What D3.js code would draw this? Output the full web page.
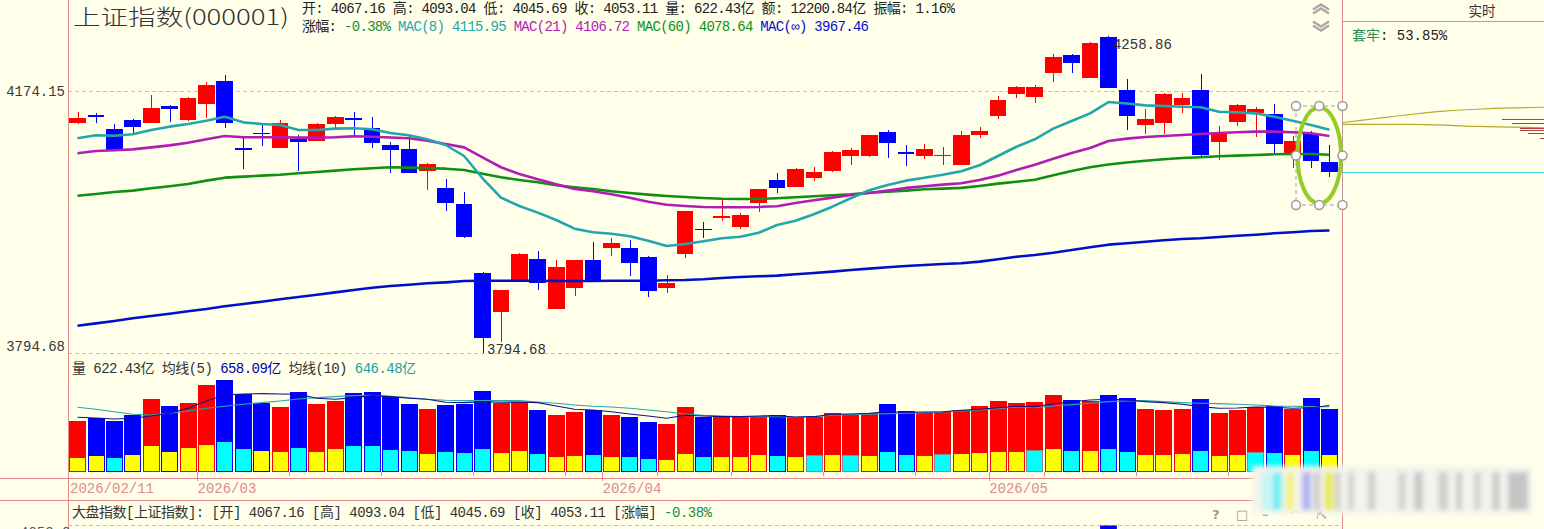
<!DOCTYPE html>
<html><head><meta charset="utf-8">
<script src="https://cdn.jsdelivr.net/npm/d3@7"></script>
<style>
html,body{margin:0;padding:0;background:#FFFFEA;overflow:hidden;}
svg{display:block;}
</style></head><body>
<svg id="c" width="1544" height="529"></svg>
<script>
// ---------- DATA ----------
const openP  = [4126.6,4138.2,4116.7,4130.7,4125.7,4151.9,4131.2,4154.5,4190.0,4088.3,4111.6,4088.3,4101.7,4099.6,4125.1,4133.3,4118.2,4093.2,4087.2,4055.1,4030.0,4006.1,3906.8,3851.6,3896.4,3926.4,3855.0,3885.4,3925.0,3941.8,3941.8,3928.8,3885.4,3933.1,3969.7,3987.1,3973.0,4007.9,4041.3,4031.5,4044.7,4055.1,4077.3,4077.3,4112.7,4082.2,4077.3,4077.9,4063.5,4108.2,4136.7,4170.1,4166.1,4202.7,4229.9,4194.1,4257.9,4176.2,4122.7,4125.7,4153.4,4176.2,4098.1,4128.1,4140.8,4139.8,4080.8,4109.2,4067.16];
const highP  = [4143.2,4140.8,4124.7,4132.2,4168.6,4153.4,4166.1,4188.9,4199.2,4103.2,4123.2,4130.7,4108.2,4125.7,4136.7,4142.3,4135.6,4098.1,4108.2,4066.0,4042.8,4023.2,3908.3,3882.2,3935.0,3937.9,3925.0,3925.0,3951.3,3956.2,3953.7,3930.7,3903.5,3995.8,3980.2,4011.9,3993.4,4028.1,4052.1,4059.5,4061.0,4084.2,4088.3,4107.7,4115.7,4093.2,4094.3,4090.7,4114.2,4119.8,4167.1,4182.3,4183.9,4231.5,4231.5,4250.4,4258.86,4193.0,4146.9,4171.2,4171.2,4200.7,4121.7,4154.9,4150.8,4154.9,4106.7,4114.2,4093.04];
const lowP   = [4124.7,4125.7,4084.7,4110.7,4125.7,4128.1,4129.6,4133.3,4118.2,4057.1,4091.7,4088.3,4055.1,4099.6,4118.2,4108.2,4089.2,4051.2,4052.1,4026.6,3996.3,3957.0,3794.68,3809.6,3896.4,3882.2,3855.0,3874.1,3893.1,3931.2,3902.1,3872.8,3877.5,3928.3,3957.0,3981.7,3969.2,3994.8,4022.6,4031.5,4040.3,4053.6,4063.5,4075.8,4073.4,4062.0,4072.8,4063.5,4063.5,4103.2,4131.8,4164.5,4156.0,4188.0,4201.8,4194.1,4180.0,4115.7,4109.7,4109.7,4141.7,4075.8,4070.9,4121.7,4105.6,4081.7,4058.6,4058.6,4045.69];
const closeP = [4133.3,4136.2,4085.7,4119.7,4148.4,4147.8,4163.6,4183.9,4125.7,4085.2,4110.7,4125.7,4098.1,4124.7,4135.6,4131.2,4096.7,4085.7,4052.1,4065.0,4007.9,3958.5,3815.2,3882.2,3933.6,3891.7,3915.0,3925.0,3893.1,3949.4,3921.1,3881.2,3891.7,3995.8,3968.6,3988.1,3990.0,4028.1,4029.1,4057.6,4053.1,4082.7,4085.7,4107.7,4095.7,4081.2,4087.2,4078.8,4107.7,4114.2,4161.0,4180.3,4180.3,4226.4,4217.1,4247.8,4180.0,4137.2,4131.8,4170.1,4163.6,4078.8,4109.7,4153.4,4146.9,4094.7,4099.2,4069.9,4053.11];

const mac8   = [4103.2,4107.7,4107.1,4109.2,4115.7,4120.7,4124.7,4129.6,4135.7,4127.2,4124.7,4123.2,4115.7,4115.7,4117.7,4118.3,4116.8,4111.2,4107.7,4101.7,4093.2,4076.8,4043.8,4015.3,4003.1,3993.4,3982.7,3970.1,3964.9,3962.8,3959.1,3952.7,3945.1,3947.9,3951.8,3956.2,3958.5,3964.3,3975.4,3981.7,3991.0,4002.1,4014.4,4026.2,4034.0,4040.3,4044.7,4049.1,4054.2,4063.1,4076.8,4090.6,4101.7,4117.7,4129.2,4140.8,4157.9,4155.7,4152.9,4151.9,4150.8,4149.9,4143.2,4142.3,4140.8,4135.7,4129.6,4123.2,4115.95];
const mac21  = [4080.8,4084.2,4085.3,4086.7,4089.7,4092.7,4096.6,4101.7,4106.7,4104.7,4104.7,4104.7,4104.2,4104.2,4104.7,4106.2,4105.6,4104.5,4103.2,4099.6,4094.7,4089.7,4074.9,4060.1,4050.2,4042.3,4035.0,4028.1,4024.7,4020.3,4015.3,4009.4,4005.0,4003.1,4001.7,4001.2,4001.2,4001.7,4002.8,4007.5,4011.5,4015.3,4019.3,4022.2,4025.6,4029.6,4032.0,4034.4,4036.4,4041.3,4047.7,4056.1,4063.9,4072.8,4081.2,4088.7,4099.2,4102.7,4105.2,4106.7,4108.2,4109.7,4111.2,4112.2,4113.2,4113.2,4112.2,4110.7,4106.72];
const mac60  = [4018.2,4020.7,4023.7,4025.6,4029.1,4032.0,4035.4,4040.3,4044.7,4046.2,4047.7,4049.1,4051.2,4053.1,4055.1,4057.1,4058.6,4060.1,4059.5,4058.6,4058.0,4056.1,4050.6,4045.3,4041.3,4037.9,4033.5,4030.6,4028.1,4024.7,4022.2,4019.7,4017.8,4016.3,4014.8,4013.8,4013.4,4013.4,4014.5,4015.9,4017.3,4018.8,4020.3,4022.6,4024.1,4025.6,4027.6,4028.5,4029.6,4032.5,4035.9,4038.8,4041.7,4048.2,4054.6,4060.1,4064.2,4067.2,4069.7,4071.9,4073.9,4074.9,4076.4,4077.3,4078.3,4079.4,4079.8,4079.8,4078.64];
const macInf = [3831.8,3835.2,3838.6,3842.4,3845.6,3848.8,3852.2,3855.4,3859.2,3862.5,3865.7,3869.1,3872.3,3875.6,3878.9,3882.2,3885.5,3887.9,3889.7,3891.7,3893.1,3895.0,3895.4,3895.4,3895.4,3895.4,3895.0,3895.0,3895.0,3895.4,3895.4,3895.4,3896.0,3896.4,3897.4,3899.3,3900.7,3901.7,3902.6,3904.6,3906.4,3908.3,3910.7,3912.6,3914.6,3916.4,3917.9,3919.3,3920.3,3922.6,3926.0,3929.7,3932.2,3935.4,3939.3,3943.2,3947.0,3949.1,3951.1,3953.3,3955.1,3956.2,3958.0,3959.9,3961.4,3963.4,3964.9,3966.7,3967.46];

// volume in 亿
const volume = [504.5,537.3,504.5,564.2,723.4,653.7,686.6,862.7,912.4,773.1,686.6,643.8,793.0,673.6,706.5,783.1,793.0,740.3,673.6,623.9,663.7,673.6,803.0,680.6,688.5,613.9,564.2,594.0,613.9,564.2,544.3,494.5,474.6,643.8,544.3,544.3,544.3,554.2,564.2,544.3,544.3,584.1,574.1,584.1,673.6,604.0,584.1,594.0,613.9,653.7,703.5,683.6,690.5,763.2,713.4,706.5,763.2,730.3,623.9,613.9,623.9,723.4,587.1,613.9,646.8,653.7,623.9,733.3,622.43];
const volPart = [143.3,166.2,143.3,176.1,265.7,206.0,245.8,275.6,305.5,235.8,215.9,206.0,245.8,206.0,235.8,265.7,265.7,225.9,215.9,186.1,206.0,196.0,235.8,196.0,215.9,186.1,156.2,166.2,176.1,156.2,156.2,136.3,126.4,186.1,156.2,156.2,156.2,176.1,166.2,156.2,166.2,176.1,166.2,166.2,206.0,176.1,166.2,176.1,186.1,196.0,206.0,206.0,215.9,235.8,215.9,215.9,235.8,206.0,176.1,176.1,186.1,215.9,166.2,176.1,196.0,196.0,176.1,215.9,176.1];
// 1 = yellow (up), 0 = cyan (down) for the lower part
const partUp = [1,1,0,1,1,1,1,1,0,0,1,1,0,1,1,0,0,0,0,1,0,0,0,1,1,0,1,1,0,1,0,0,1,1,0,1,1,1,0,1,0,1,0,1,0,0,1,0,1,1,1,1,0,1,0,1,0,0,1,1,1,0,1,1,0,0,1,0,1];
const volMa5  = [541.3,534.3,524.4,531.3,554.2,581.1,630.8,703.5,763.2,773.1,776.1,773.1,770.1,730.3,720.4,736.3,756.2,746.3,730.3,720.4,690.5,686.6,696.5,690.5,693.5,686.6,653.7,620.9,613.9,597.0,574.1,554.2,531.3,561.2,554.2,547.3,547.3,554.2,557.2,544.3,547.3,571.1,574.1,581.1,597.0,591.0,594.0,597.0,610.9,620.9,636.8,650.7,646.8,673.6,696.5,713.4,720.4,713.4,696.5,686.6,670.6,646.8,630.8,633.8,643.8,640.8,630.8,636.8,658.09];
const volMa10 = [640.8,620.9,597.0,571.1,564.2,581.1,604.0,630.8,650.7,670.6,686.6,703.5,723.4,736.3,746.3,756.2,760.2,750.2,736.3,720.4,710.4,706.5,706.5,706.5,706.5,693.5,680.6,663.7,650.7,643.8,630.8,613.9,597.0,574.1,561.2,554.2,547.3,547.3,547.3,541.3,547.3,561.2,567.2,571.1,577.1,581.1,587.1,594.0,604.0,613.9,626.9,643.8,636.8,653.7,666.7,680.6,696.5,703.5,706.5,696.5,686.6,680.6,676.6,670.6,663.7,653.7,650.7,646.8,646.48];

const dateLabels = ["2026/02/11","2026/03","2026/04","2026/05"];
const dateLabelIdx = [0,7,29,50];
const weekStartIdx = [7,12,17,22,27,29,32,36,41,46,50,53,58,63];
const priceTicks = [4174.15, 3794.68];
const hiIdx = 56, loIdx = 22;

// chip panel (right side)
const chipCostUpper = [4127, 4133, 4139, 4144, 4147, 4149, 4150];
const chipCostLower = [4124, 4124, 4124, 4123, 4121, 4120, 4119];
const chipBars = [[4132,42],[4126,32],[4118,24],[4116,24],[4111,16],[4104,4]];

// ---------- SCALES ----------
const W = 1544, H = 529;
const svg = d3.select("#c");
const n = closeP.length;
const idx = d3.range(n);
const x = d3.scaleBand().domain(idx).range([68.3, 1338.6]).paddingInner(0.09).paddingOuter(0.045);
const bw = x.bandwidth();
const cx = i => x(i) + bw / 2;
const y = d3.scaleLog().domain([3794.68, 4258.86]).range([352.5, 36.3]);
const yv = d3.scaleLinear().domain([0, 922]).range([471.7, 379]);

const RED = "#FF0000", BLUE = "#0000FF", PINK = "#E38A8A", GRID = "#DDB4A8";
const MONO = "'Liberation Mono','DejaVu Sans Mono','Noto Sans CJK SC',monospace";
const CJK = "'Noto Sans CJK SC','DejaVu Sans',sans-serif";

svg.append("rect").attr("width", W).attr("height", H).attr("fill", "#FFFFEA");

// ---------- GRID ----------
svg.selectAll(".grid").data(priceTicks).join("line")
  .attr("x1", 68).attr("x2", 1342)
  .attr("y1", d => Math.round(y(d)) + 0.5).attr("y2", d => Math.round(y(d)) + 0.5)
  .attr("stroke", GRID).attr("stroke-dasharray", "4,3").attr("stroke-width", 1);
svg.selectAll(".plab").data(priceTicks).join("text")
  .attr("x", 65).attr("y", (d, i) => i === 0 ? y(d) + 5 : y(d) - 1.5)
  .attr("text-anchor", "end").attr("font-family", MONO).attr("font-size", 14)
  .attr("fill", "#3a3a3a").text(d => d.toFixed(2));

// ---------- CANDLES ----------
const cg = svg.append("g").attr("shape-rendering", "crispEdges");
idx.forEach(i => {
  const up = closeP[i] >= openP[i];
  const col = up ? RED : BLUE;
  const xm = Math.round(cx(i)) + 0.5;
  cg.append("line").attr("x1", xm).attr("x2", xm)
    .attr("y1", y(highP[i])).attr("y2", y(lowP[i])).attr("stroke", col).attr("stroke-width", 1);
  const top = y(Math.max(openP[i], closeP[i]));
  const bot = y(Math.min(openP[i], closeP[i]));
  cg.append("rect").attr("x", x(i)).attr("width", bw)
    .attr("y", top).attr("height", Math.max(1.5, bot - top)).attr("fill", col);
});

// ---------- MA LINES ----------
const maDefs = [[macInf, "#0010C8"], [mac60, "#109010"], [mac21, "#B01CB4"], [mac8, "#22A6AE"]];
maDefs.forEach(([arr, col]) => {
  svg.append("path").datum(arr)
    .attr("d", d3.line().x((d, i) => cx(i)).y(d => y(d)))
    .attr("fill", "none").attr("stroke", col).attr("stroke-width", 2.6).attr("stroke-linejoin", "round");
});

// high / low annotations
svg.append("text").attr("x", cx(hiIdx) + 4.5).attr("y", 49)
  .attr("font-family", MONO).attr("font-size", 14).attr("fill", "#333").text(highP[hiIdx].toFixed(2));
svg.append("text").attr("x", cx(loIdx) + 4.5).attr("y", y(lowP[loIdx]) + 1)
  .attr("font-family", MONO).attr("font-size", 14).attr("fill", "#333").text(lowP[loIdx].toFixed(2));

// ---------- VOLUME ----------
const vg = svg.append("g").attr("shape-rendering", "crispEdges");
idx.forEach(i => {
  const up = closeP[i] >= openP[i];
  const col = up ? RED : BLUE;
  const x0 = Math.round(x(i)), w = Math.round(bw);
  vg.append("rect").attr("x", x0).attr("y", yv(volume[i])).attr("width", w)
    .attr("height", yv(0) - yv(volume[i])).attr("fill", col);
  const pc = partUp[i] ? "#FFFF00" : "#00FFFF";
  const edge = (up && !partUp[i]) ? "#8A8A8A" : col;
  vg.append("rect").attr("x", x0 + 0.5).attr("y", yv(volPart[i]) + 0.5).attr("width", w - 1)
    .attr("height", yv(0) - yv(volPart[i]) - 1).attr("fill", pc).attr("stroke", edge).attr("stroke-width", 1);
});
svg.append("path").datum(volMa10)
  .attr("d", d3.line().x((d, i) => cx(i)).y(d => yv(d)))
  .attr("fill", "none").attr("stroke", "#2AA6A6").attr("stroke-width", 1.1);
svg.append("path").datum(volMa5)
  .attr("d", d3.line().x((d, i) => cx(i)).y(d => yv(d)))
  .attr("fill", "none").attr("stroke", "#101090").attr("stroke-width", 1.1);

// volume label
const vl = svg.append("text").attr("x", 72).attr("y", 372.5).attr("font-family", MONO).attr("font-size", 14)
  .attr("textLength", 344).attr("lengthAdjust", "spacing");
vl.append("tspan").attr("fill", "#333").text("量 " + volume[n - 1].toFixed(2) + "亿 均线(5) ");
vl.append("tspan").attr("fill", "#0000B0").text(volMa5[n - 1].toFixed(2) + "亿");
vl.append("tspan").attr("fill", "#333").text(" 均线(10) ");
vl.append("tspan").attr("fill", "#20A0A0").text(volMa10[n - 1].toFixed(2) + "亿");

// ---------- DATE AXIS ----------
svg.selectAll(".wt").data(weekStartIdx).join("line")
  .attr("x1", d => Math.round(x(d) - 0.8) + 0.5).attr("x2", d => Math.round(x(d) - 0.8) + 0.5)
  .attr("y1", 472).attr("y2", d => dateLabelIdx.includes(d) ? 481 : 476)
  .attr("stroke", PINK).attr("stroke-width", 1);
svg.selectAll(".dl").data(dateLabels).join("text")
  .attr("x", (d, k) => k === 0 ? 70 : x(dateLabelIdx[k]) - 0.5).attr("y", 493)
  .attr("font-family", MONO).attr("font-size", 14).attr("fill", "#E08A8A").text(d => d);

// ---------- FRAME LINES ----------
const frame = svg.append("g").attr("stroke", PINK).attr("stroke-width", 1).attr("shape-rendering", "crispEdges");
frame.append("line").attr("x1", 68.5).attr("x2", 68.5).attr("y1", 0).attr("y2", H);
frame.append("line").attr("x1", 1342.5).attr("x2", 1342.5).attr("y1", 0).attr("y2", H);
frame.append("line").attr("x1", 0).attr("x2", 1342).attr("y1", 478.5).attr("y2", 478.5);
frame.append("line").attr("x1", 0).attr("x2", 1342).attr("y1", 500.5).attr("y2", 500.5);
frame.append("line").attr("x1", 1342).attr("x2", W).attr("y1", 21.5).attr("y2", 21.5);
svg.append("line").attr("x1", 68).attr("x2", 1342).attr("y1", 525.5).attr("y2", 525.5)
  .attr("stroke", GRID).attr("stroke-dasharray", "4,3");

// bottom info line
const bl = svg.append("text").attr("x", 72).attr("y", 517).attr("font-family", MONO).attr("font-size", 14)
  .attr("textLength", 640).attr("lengthAdjust", "spacing");
bl.append("tspan").attr("fill", "#333").text("大盘指数[上证指数]: [开] " + openP[n-1].toFixed(2) + " [高] " + highP[n-1].toFixed(2) + " [低] " + lowP[n-1].toFixed(2) + " [收] " + closeP[n-1].toFixed(2) + " [涨幅] ");
bl.append("tspan").attr("fill", "#1E8A3A").text("-0.38%");
svg.append("text").attr("x", 20).attr("y", 537).attr("font-family", MONO).attr("font-size", 14).attr("fill", "#555").text("4053.0");
svg.append("rect").attr("x", x(hiIdx)).attr("y", 525.5).attr("width", bw).attr("height", 4).attr("fill", BLUE);

// small window icons
const ic = svg.append("g").attr("fill", "#9A9A9A").attr("font-family", "'DejaVu Sans',sans-serif").attr("font-size", 13).attr("font-weight", "bold");
[["?", 1212], ["□", 1236], ["–", 1262], ["^", 1290], ["⇱", 1316]].forEach(([t, xx]) =>
  ic.append("text").attr("x", xx).attr("y", 519).text(t));

// ---------- HEADER ----------
svg.append("text").attr("x", 73).attr("y", 25).attr("font-family", CJK).attr("font-size", 22)
  .attr("font-weight", 300)
  .attr("fill", "#333").attr("textLength", 216).attr("lengthAdjust", "spacingAndGlyphs").text("上证指数(000001)");
svg.append("text").attr("x", 302).attr("y", 13.3).attr("font-family", MONO).attr("font-size", 14)
  .attr("fill", "#222").attr("textLength", 653).attr("lengthAdjust", "spacing")
  .text("开: " + openP[n-1].toFixed(2) + " 高: " + highP[n-1].toFixed(2) + " 低: " + lowP[n-1].toFixed(2) + " 收: " + closeP[n-1].toFixed(2) + " 量: " + volume[n-1].toFixed(2) + "亿 额: 12200.84亿 振幅: 1.16%");
const h2 = svg.append("text").attr("x", 302).attr("y", 30.8).attr("font-family", MONO).attr("font-size", 14)
  .attr("textLength", 567).attr("lengthAdjust", "spacing");
h2.append("tspan").attr("fill", "#222").text("涨幅: ");
h2.append("tspan").attr("fill", "#1E8A3A").text("-0.38% ");
h2.append("tspan").attr("fill", "#1AA8B0").text("MAC(8) " + mac8[n-1].toFixed(2) + " ");
h2.append("tspan").attr("fill", "#B01CB4").text("MAC(21) " + mac21[n-1].toFixed(2) + " ");
h2.append("tspan").attr("fill", "#109010").text("MAC(60) " + mac60[n-1].toFixed(2) + " ");
h2.append("tspan").attr("fill", "#0010C8").text("MAC(∞) " + macInf[n-1].toFixed(2));

// chevrons
const chev = svg.append("g").attr("fill", "none").attr("stroke", "#A8A8A8").attr("stroke-width", 2.4);
[[1313, 7, -1], [1313, 11, -1], [1313, 24, 1], [1313, 28, 1]].forEach(([xx, yy, s]) =>
  chev.append("path").attr("d", `M${xx},${yy - s * 2.5} L${xx + 8},${yy + s * 2.5} L${xx + 16},${yy - s * 2.5}`));

// right panel
svg.append("text").attr("x", 1482).attr("y", 15.5).attr("text-anchor", "middle").attr("font-family", CJK)
  .attr("font-size", 13.5).attr("fill", "#333").text("实时");
const tl = svg.append("text").attr("x", 1352).attr("y", 40).attr("font-family", MONO).attr("font-size", 14);
tl.append("tspan").attr("fill", "#2E8B57").text("套牢");
tl.append("tspan").attr("fill", "#222").text(": 53.85%");

const xr = d3.scaleLinear().domain([0, chipCostUpper.length - 1]).range([1343, 1544]);
svg.append("path").datum(chipCostUpper).attr("d", d3.line().curve(d3.curveMonotoneX).x((d, i) => xr(i)).y(d => y(d)))
  .attr("fill", "none").attr("stroke", "#B8A830").attr("stroke-width", 1.2);
svg.append("path").datum(chipCostLower).attr("d", d3.line().curve(d3.curveMonotoneX).x((d, i) => xr(i)).y(d => y(d)))
  .attr("fill", "none").attr("stroke", "#B8A830").attr("stroke-width", 1.2);
svg.selectAll(".chip").data(chipBars).join("line")
  .attr("x1", d => 1544 - d[1]).attr("x2", 1544)
  .attr("y1", d => Math.round(y(d[0])) + 0.5).attr("y2", d => Math.round(y(d[0])) + 0.5)
  .attr("stroke", "#B04040").attr("stroke-width", 1);
svg.append("line").attr("x1", 1343).attr("x2", 1544)
  .attr("y1", Math.round(y(closeP[n - 1])) + 0.5).attr("y2", Math.round(y(closeP[n - 1])) + 0.5)
  .attr("stroke", "#40D8E8").attr("stroke-width", 1);

// ---------- ELLIPSE ANNOTATION ----------
const ex0 = 1296, ex1 = 1342.5, ey0 = 106, ey1 = 205;
svg.append("rect").attr("x", ex0).attr("y", ey0).attr("width", ex1 - ex0).attr("height", ey1 - ey0)
  .attr("fill", "none").attr("stroke", "#A0A0A0").attr("stroke-dasharray", "4,3");
svg.append("ellipse").attr("cx", (ex0 + ex1) / 2).attr("cy", (ey0 + ey1) / 2)
  .attr("rx", (ex1 - ex0) / 2 - 1.5).attr("ry", (ey1 - ey0) / 2 - 1.5)
  .attr("fill", "none").attr("stroke", "#96CC2A").attr("stroke-width", 4);
const hx = [ex0, (ex0 + ex1) / 2, ex1], hy = [ey0, (ey0 + ey1) / 2, ey1];
hx.forEach((a, p) => hy.forEach((b, q) => {
  if (p === 1 && q === 1) return;
  svg.append("circle").attr("cx", a).attr("cy", b).attr("r", 4.5).attr("fill", "#FFFFFF").attr("stroke", "#9A9A9A").attr("stroke-width", 1.5);
}));

// ---------- BLURRED WATERMARK PATCH ----------
const defs = svg.append("defs");
defs.append("filter").attr("id", "blur").attr("x", "-10%").attr("y", "-10%").attr("width", "120%").attr("height", "120%")
  .append("feGaussianBlur").attr("stdDeviation", 2.5);
const mz = svg.append("g").attr("filter", "url(#blur)");
mz.append("rect").attr("x", 1252).attr("y", 466).attr("width", 280).attr("height", 48).attr("fill", "#F4F4EE");
const stripes = [[1262,8,"#BFF4F4"],[1272,10,"#6FF0F0"],[1286,8,"#F2F27A"],[1302,9,"#B0B0F0"],[1314,6,"#C8C8C8"],[1324,10,"#E8E860"],[1336,4,"#C0C0C0"],
  [1348,6,"#D0D0D0"],[1368,7,"#CCCCCC"],[1398,8,"#D4D4D4"],[1414,9,"#C8C8C8"],[1438,10,"#D0D0D0"],[1456,6,"#CACACA"],[1474,7,"#D2D2D2"],[1492,8,"#CCCCCC"],[1508,20,"#C4C4C4"]];
stripes.forEach(([sx, sw, sc]) => mz.append("rect").attr("x", sx).attr("y", 472).attr("width", sw).attr("height", 38).attr("fill", sc));
</script>
</body></html>
